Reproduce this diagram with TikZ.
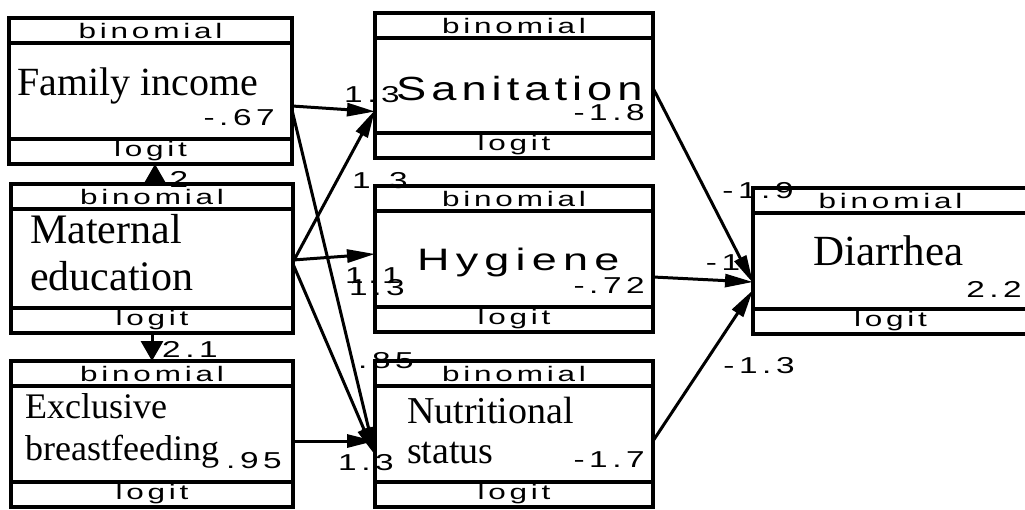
\documentclass[tikz,border=0pt]{standalone}
\usepackage{fontspec}
\setmainfont{Liberation Serif}
\newfontfamily\stripsans[FakeStretch=1.5, LetterSpace=18]{Liberation Sans}
\newfontfamily\numsans[FakeStretch=1.45, LetterSpace=20]{Liberation Sans}
\newfontfamily\namesans[FakeStretch=1.35, LetterSpace=15]{Liberation Sans}
\usetikzlibrary{arrows.meta, positioning}

\tikzset{
  mainbox/.style={draw, line width=3.6pt, minimum height=96pt, inner sep=0pt, outer sep=0pt},
  stripbox/.style={draw, line width=3.6pt, minimum height=25pt, inner sep=0pt, outer sep=0pt, font=\stripsans\fontsize{21}{21}\selectfont},
  varname/.style={anchor=base west, inner sep=0pt, align=left},
  boxval/.style={anchor=base east, inner sep=0pt, font=\numsans\fontsize{23}{23}\selectfont},
  coefval/.style={anchor=base, inner sep=0pt, font=\numsans\fontsize{23}{23}\selectfont},
  link/.style={line width=3pt, -{Triangle[length=28pt,width=13pt]}},
  vlink/.style={line width=3pt, -{Triangle[length=20pt,width=22pt]}},
}

\begin{document}
\begin{tikzpicture}[x=1pt, y=-1pt]
\useasboundingbox (0,0) rectangle (1025,509);
\fill[white] (0,0) rectangle (1025,509);

% left column
\node[mainbox, minimum width=283pt] (famincome) at (150.5, 91) {};
\node[stripbox, minimum width=283pt, above=0pt of famincome] (famincomeTop) {binomial};
\node[stripbox, minimum width=283pt, below=0pt of famincome] (famincomeBot) {logit};
\node[varname, font=\fontsize{40}{40}\selectfont] (famincomeName) at (17, 95) {Family income};
\node[boxval] (famincomeVal) at (275, 125) {-.67};

\node[mainbox, minimum width=282pt, minimum height=99pt] (matedu) at (152, 258.5) {};
\node[stripbox, minimum width=282pt, above=0pt of matedu] (mateduTop) {binomial};
\node[stripbox, minimum width=282pt, below=0pt of matedu] (mateduBot) {logit};
\node[varname, font=\fontsize{42}{47}\selectfont] (mateduName) at (30, 290) {Maternal\\education};

\node[mainbox, minimum width=282pt] (exclbf) at (152, 434) {};
\node[stripbox, minimum width=282pt, above=0pt of exclbf] (exclbfTop) {binomial};
\node[stripbox, minimum width=282pt, below=0pt of exclbf] (exclbfBot) {logit};
\node[varname, font=\fontsize{36}{42}\selectfont] (exclbfName) at (25, 460) {Exclusive\\breastfeeding};
\node[boxval] (exclbfVal) at (282, 468) {.95};

% middle column
\node[mainbox, minimum width=278pt, minimum height=95pt] (sanit) at (514, 85.5) {};
\node[stripbox, minimum width=278pt, above=0pt of sanit] (sanitTop) {binomial};
\node[stripbox, minimum width=278pt, below=0pt of sanit] (sanitBot) {logit};
\node[varname, font=\namesans\fontsize{33.5}{33.5}\selectfont] (sanitName) at (396, 100) {Sanitation};
\node[boxval] (sanitVal) at (645, 120) {-1.8};

\node[mainbox, minimum width=278pt] (hygiene) at (514, 259) {};
\node[stripbox, minimum width=278pt, above=0pt of hygiene] (hygieneTop) {binomial};
\node[stripbox, minimum width=278pt, below=0pt of hygiene] (hygieneBot) {logit};
\node[varname, font=\namesans\fontsize{31}{31}\selectfont\addfontfeature{FakeStretch=1.45, LetterSpace=20}] (hygieneName) at (417, 270) {Hygiene};
\node[boxval] (hygieneVal) at (645, 293) {-.72};

\node[mainbox, minimum width=278pt] (nutri) at (514, 434) {};
\node[stripbox, minimum width=278pt, above=0pt of nutri] (nutriTop) {binomial};
\node[stripbox, minimum width=278pt, below=0pt of nutri] (nutriBot) {logit};
\node[varname, font=\fontsize{38}{40}\selectfont] (nutriName) at (407, 463) {Nutritional\\status};
\node[boxval] (nutriVal) at (645, 467) {-1.7};

% outcome
\node[mainbox, minimum width=275pt] (diarr) at (890.5, 261) {};
\node[stripbox, minimum width=275pt, above=0pt of diarr] (diarrTop) {binomial};
\node[stripbox, minimum width=275pt, below=0pt of diarr] (diarrBot) {logit};
\node[varname, font=\fontsize{43}{43}\selectfont] (diarrName) at (813, 265) {Diarrhea};
\node[boxval] (diarrVal) at (1022, 297) {2.2};

% paths
\draw[vlink] ([xshift=3pt]mateduTop.north) -- ([xshift=4.5pt]famincomeBot.south);
\draw[vlink] (mateduBot.south) -- (exclbfTop.north);
\draw[link] ([yshift=-15pt]famincome.east) -- ([yshift=-26pt]sanit.west);
\draw[link] ([yshift=-19pt]famincome.east) -- ([yshift=-21pt]nutri.west);
\draw[link] ([yshift=-3.5pt]matedu.east) -- ([yshift=-24.5pt]sanit.west);
\draw[link] ([yshift=-1.5pt]matedu.east) -- ([yshift=5pt]hygiene.west);
\draw[link] ([yshift=-5.5pt]matedu.east) -- ([yshift=-21pt]nutri.west);
\draw[link] ([yshift=-7pt]exclbf.east) -- ([yshift=-7pt]nutri.west);
\draw[link] ([yshift=-2.5pt]sanit.east) -- ([yshift=-22pt]diarr.west);
\draw[link] ([yshift=-18pt]hygiene.east) -- ([yshift=-21pt]diarr.west);
\draw[link] ([yshift=-7pt]nutri.east) -- ([yshift=-29pt]diarr.west);

% coefficients
\node[coefval] (cEduInc) at (179, 187) {2};
\node[coefval] (cEduBf) at (190, 357) {2.1};
\node[coefval] (cIncSan) at (372, 102) {1.3};
\node[coefval] (cEduSan) at (380, 188) {1.3};
\node[coefval] (cEduHyg) at (373, 283) {1.1};
\node[coefval] (cEduNut) at (377, 295) {1.3};
\node[coefval] (cIncNut) at (386, 368) {.85};
\node[coefval] (cBfNut) at (366, 470) {1.3};
\node[coefval] (cSanDia) at (758, 198) {-1.9};
\node[coefval] (cHygDia) at (723, 270) {-1};
\node[coefval] (cNutDia) at (759, 373) {-1.3};
\end{tikzpicture}
\end{document}
